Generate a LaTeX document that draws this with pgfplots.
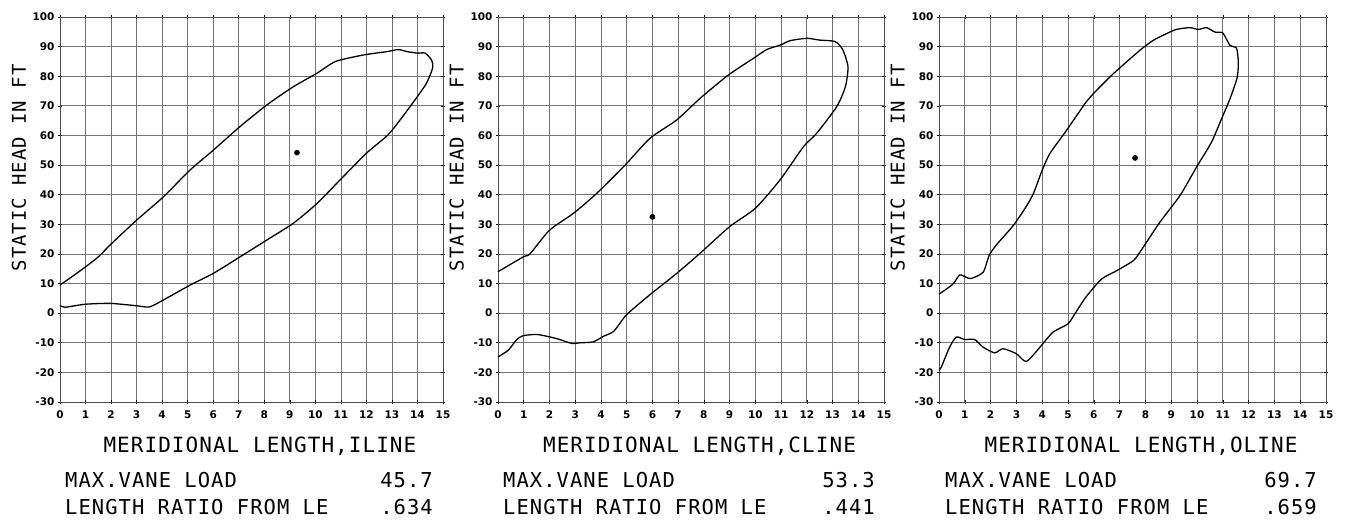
\documentclass[border=0pt]{standalone}
\usepackage{pgfplots}
\pgfplotsset{compat=1.18}
\usepackage{fontspec}
\setmainfont{DejaVu Sans}
\newfontfamily\plotfont[LetterSpace=5]{DejaVu Sans Mono}
\newfontfamily\tickfont{DejaVu Sans}

\pgfplotsset{
  panel/.style={
    scale only axis, height=385pt,
    xmin=0, xmax=15, ymin=-30, ymax=100,
    xtick={0,1,...,15}, ytick={-30,-20,...,100},
    grid=major,
    major grid style={black!55, line width=0.7pt},
    axis line style={black!70, line width=0.8pt},
    tick style={black, line width=0.6pt},
    tick align=center, major tick length=4pt,
    /pgf/number format/assume math mode=true,
    tick label style={font={\fontsize{10.5}{12}\selectfont\tickfont\bfseries}},
    xticklabel style={yshift=-3pt},
    xlabel style={at={(rel axis cs:0.522,0)}, anchor=base, yshift=-51pt,
      font={\fontsize{21}{24}\selectfont\plotfont}},
    ylabel style={at={(rel axis cs:-0.107,0.608)}, anchor=center,
      font={\fontsize{19}{22}\selectfont\plotfont}},
    ylabel={STATIC HEAD IN FT},
    clip=false,
  },
  curve/.style={black, line width=1.3pt, smooth, tension=0.4, mark=none},
  dot/.style={only marks, mark=*, mark size=2.6pt, black},
}

\begin{document}
\begin{tikzpicture}[x=1pt,y=1pt]
\path[use as bounding box] (0,0) rectangle (1348,519);

% ---------------- ILINE ----------------
\begin{axis}[panel, at={(60pt,117pt)}, anchor=south west, width=383pt,
  xlabel={MERIDIONAL LENGTH,ILINE}]
\addplot[curve] coordinates {
(0,9.5) (0.5,12.5) (0.98,15.5) (1.5,19) (1.96,23) (3.0,31.4) (4.04,39.2)
(5.09,48.3) (6.0,55) (7.05,63) (8.1,70.3) (9.13,76.4) (10.06,81) (10.8,85)
(11.9,87.2) (12.8,88.3) (13.25,89) (13.6,88.3) (14.0,87.8) (14.3,87.8)
(14.55,85.5) (14.6,83) (14.35,77.6) (13.8,70.8) (12.9,60.7) (12.0,54)
(10.97,45) (10.06,37) (9.13,30.3) (8.1,24.7) (7.05,19) (6.0,13.4) (5.1,9.5)
(4.04,4.4) (3.5,2.1) (3.0,2.5) (1.96,3.3) (0.98,3.0) (0.2,2.0) (0,2.6)
};
\addplot[dot] coordinates {(9.28,54.2)};
\end{axis}

% ---------------- CLINE ----------------
\begin{axis}[panel, at={(498pt,117pt)}, anchor=south west, width=386pt,
  xlabel={MERIDIONAL LENGTH,CLINE}]
\addplot[curve] coordinates {
(0,14) (0.98,19) (1.24,20) (2.0,28) (2.93,33.7) (3.83,40.4) (4.94,50)
(5.9,59) (6.94,65.2) (7.85,72.5) (8.95,80.4) (9.92,86) (10.44,89)
(10.96,90.5) (11.35,92) (12.0,92.8) (12.5,92.2) (13.1,91.7) (13.4,88.9)
(13.6,83.2) (13.5,76.5) (13.16,69.7) (12.38,60.7) (11.87,56.2) (10.96,45)
(10.0,35.4) (9.0,29.2) (7.85,20.2) (6.94,13.4) (5.9,6.2) (5.0,-0.5)
(4.5,-6.1) (4.1,-7.8) (3.7,-9.7) (3.2,-10) (2.86,-10.2) (2.4,-8.9)
(2.0,-8.0) (1.5,-7.2) (0.98,-7.6) (0.73,-8.9) (0.4,-12.5) (0,-14.8)
};
\addplot[dot] coordinates {(6.0,32.5)};
\end{axis}

% ---------------- OLINE ----------------
\begin{axis}[panel, at={(939pt,117pt)}, anchor=south west, width=387pt,
  xlabel={MERIDIONAL LENGTH,OLINE}]
\addplot[curve] coordinates {
(0,6.4) (0.54,9.8) (0.8,12.9) (1.06,12.1) (1.25,11.7) (1.71,13.8)
(1.94,19.4) (2.22,23) (2.87,29.5) (3.32,35.2) (3.65,40.2) (3.97,47.6)
(4.29,53.8) (4.94,61.7) (5.7,71.3) (5.97,74) (6.75,80.8) (7.78,88.7)
(8.3,92.1) (8.82,94.4) (9.2,95.8) (9.72,96.4) (10.05,95.8) (10.37,96.4)
(10.7,94.9) (11.0,94.6) (11.28,90.4) (11.53,89.5) (11.6,85) (11.56,79.7)
(11.28,72.4) (10.95,65.6) (10.56,57.7) (9.98,49.3) (9.34,39.7) (8.56,30.7)
(7.78,20.5) (7.53,17.7) (6.88,14.3) (6.3,11.5) (5.7,5.5) (5.26,-0.3)
(5.0,-3.6) (4.42,-6.4) (3.97,-10.9) (3.39,-16.3) (3.0,-13.7) (2.48,-12.0)
(2.16,-13.4) (1.71,-11.5) (1.38,-8.9) (1.0,-8.9) (0.67,-8.1) (0.41,-11.5)
(0.09,-18.2) (0,-19.3)
};
\addplot[dot] coordinates {(7.6,52.4)};
\end{axis}

% ---------------- info lines ----------------
\begin{scope}[every node/.style={inner sep=0pt, font={\fontsize{20.5}{24}\selectfont\plotfont}}]
\node[anchor=base west] at (65,31) {MAX.VANE LOAD};
\node[anchor=base east] at (433,31) {45.7};
\node[anchor=base west] at (65,5) {LENGTH RATIO FROM LE};
\node[anchor=base east] at (433,5) {.634};
\node[anchor=base west] at (503,31) {MAX.VANE LOAD};
\node[anchor=base east] at (875,31) {53.3};
\node[anchor=base west] at (503,5) {LENGTH RATIO FROM LE};
\node[anchor=base east] at (875,5) {.441};
\node[anchor=base west] at (945,31) {MAX.VANE LOAD};
\node[anchor=base east] at (1317,31) {69.7};
\node[anchor=base west] at (945,5) {LENGTH RATIO FROM LE};
\node[anchor=base east] at (1317,5) {.659};
\end{scope}
\end{tikzpicture}
\end{document}
